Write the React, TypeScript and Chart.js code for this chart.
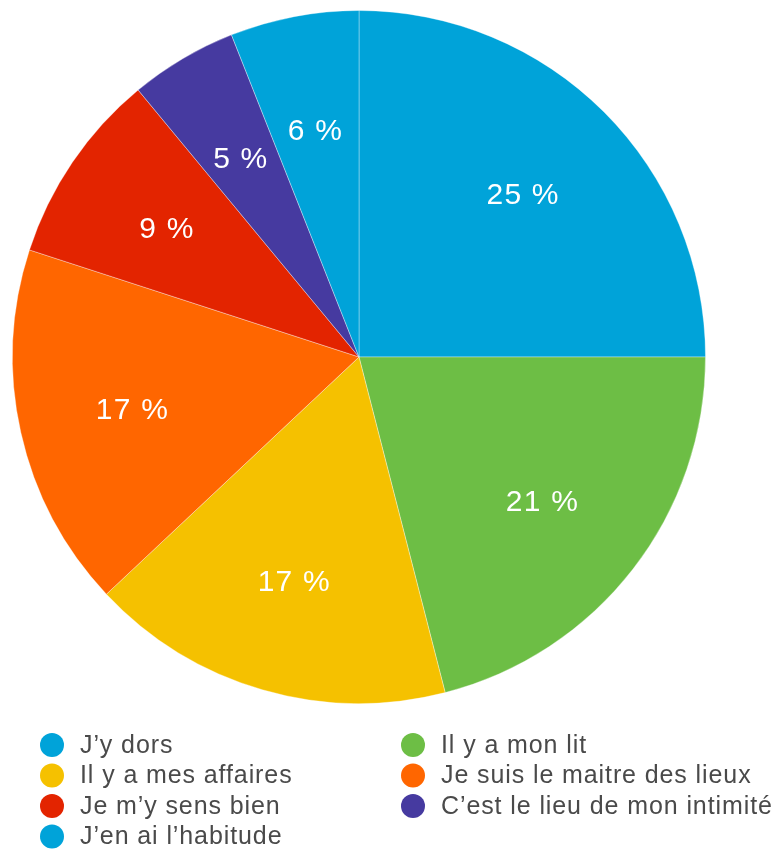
import React, { useEffect, useRef } from "react";
import { Chart, registerables } from "chart.js";

Chart.register(...registerables);

const categories = [
  "J’y dors",
  "Il y a mon lit",
  "Il y a mes affaires",
  "Je suis le maitre des lieux",
  "Je m’y sens bien",
  "C’est le lieu de mon intimité",
  "J’en ai l’habitude",
];
const values = [25, 21, 17, 17, 9, 5, 6];
const colors = ["#00A3D9", "#6DBE45", "#F5C100", "#FF6600", "#E32400", "#463AA0", "#00A3D9"];

const sliceLabels = {
  id: "sliceLabels",
  afterDatasetsDraw(chart: any) {
    const ctx = chart.ctx;
    const meta = chart.getDatasetMeta(0);
    const data = chart.data.datasets[0].data as number[];
    const total = data.reduce((a, b) => a + b, 0);
    ctx.save();
    ctx.fillStyle = "#ffffff";
    ctx.font = '30px "Liberation Sans", Arial, sans-serif';
    (ctx as any).letterSpacing = "1.2px";
    ctx.textAlign = "center";
    ctx.textBaseline = "middle";
    meta.data.forEach((arc: any, i: number) => {
      const p = arc.getProps(["x", "y", "startAngle", "endAngle", "outerRadius"], true);
      const mid = (p.startAngle + p.endAngle) / 2;
      const r = p.outerRadius * 0.67;
      const txt = Math.round((data[i] / total) * 100) + " %";
      ctx.fillText(txt, p.x + Math.cos(mid) * r, p.y + Math.sin(mid) * r + 3);
    });
    ctx.restore();
  },
};

const gridLegend = {
  id: "gridLegend",
  afterDraw(chart: any) {
    const ctx = chart.ctx;
    const labels = chart.data.labels as string[];
    const bg = chart.data.datasets[0].backgroundColor as string[];
    ctx.save();
    ctx.font = '25px "Liberation Sans", Arial, sans-serif';
    (ctx as any).letterSpacing = "0.9px";
    ctx.textBaseline = "middle";
    ctx.textAlign = "left";
    labels.forEach((lab, i) => {
      const col = i % 2;
      const row = Math.floor(i / 2);
      const cx = col === 0 ? 52 : 413;
      const cy = 745 + row * 30.5;
      ctx.fillStyle = bg[i];
      ctx.beginPath();
      ctx.arc(cx, cy, 12, 0, Math.PI * 2);
      ctx.fill();
      ctx.fillStyle = "#4a4a4a";
      ctx.fillText(lab, cx + 28, cy + 1);
    });
    ctx.restore();
  },
};

export default function App() {
  const ref = useRef<HTMLCanvasElement>(null);
  useEffect(() => {
    if (!ref.current) return;
    const chart = new Chart(ref.current, {
      type: "pie",
      data: {
        labels: categories,
        datasets: [
          {
            data: values,
            backgroundColor: colors,
            borderColor: "rgba(255,255,255,0.35)",
            borderWidth: 1,
          },
        ],
      },
      options: {
        responsive: false,
        animation: false,
        layout: { padding: { left: 12, right: 71, top: 10, bottom: 146 } },
        plugins: {
          legend: { display: false },
          tooltip: { enabled: false },
        },
      },
      plugins: [sliceLabels, gridLegend],
    });
    return () => chart.destroy();
  }, []);
  return (
    <div style={{ position: "absolute", left: 0, top: 0, width: 777, height: 850, background: "#fff" }}>
      <canvas ref={ref} width={777} height={850} />
    </div>
  );
}
